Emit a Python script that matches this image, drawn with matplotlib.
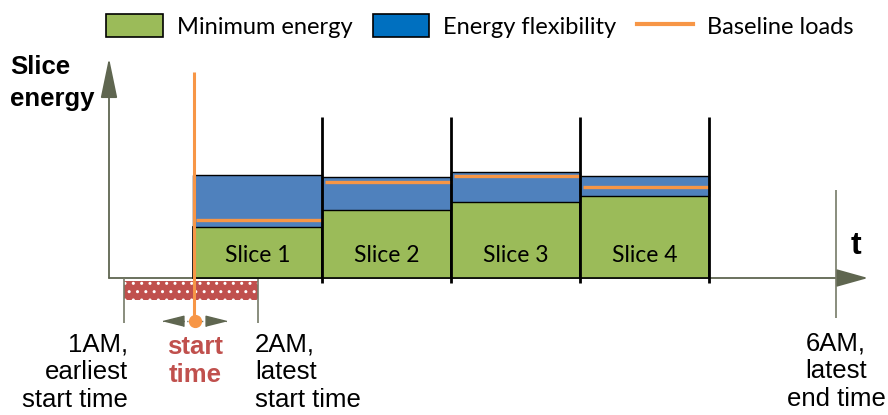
import matplotlib
matplotlib.use("Agg")
import matplotlib.pyplot as plt
from matplotlib.patches import Patch
from matplotlib.lines import Line2D

# diagram units: x = time position, y = slice energy (0 on the time axis)
slice_labels = ["Slice 1", "Slice 2", "Slice 3", "Slice 4"]
slice_edges = [193, 322, 451, 580, 709]
min_energy = [51, 68, 76, 82]
flexibility = [52, 33, 30, 20]
baseline = [58, 96, 102, 91]

earliest_start = 124
latest_start = 258
latest_end = 836
start_time = 194

green = "#9bbb59"
blue = "#4f81bd"
orange = "#f79646"
red = "#c0504d"
axis_grey = "#767a67"
arrow_grey = "#5f6650"

fig = plt.figure(figsize=(8.88, 4.15), dpi=100)
ax = fig.add_axes([0, 0, 1, 1])
ax.set_xlim(0, 888)
ax.set_ylim(-137, 278)
ax.axis("off")

starts = slice_edges[:-1]
widths = [b - a for a, b in zip(slice_edges[:-1], slice_edges[1:])]

# flexible window for the start time
ax.barh(-12.5, latest_start - earliest_start, left=earliest_start, height=19,
        color=red, hatch="..", edgecolor="white", linewidth=0, zorder=2)

# axes with arrows
ax.annotate("", xy=(109, 220), xytext=(109, 0),
            arrowprops=dict(arrowstyle="-|>,head_length=1.25,head_width=0.26",
                            mutation_scale=20, color=arrow_grey, lw=1.3,
                            shrinkA=0, shrinkB=0), zorder=1)
ax.annotate("", xy=(868, 0), xytext=(109, 0),
            arrowprops=dict(arrowstyle="-|>,head_length=1.0,head_width=0.28",
                            mutation_scale=20, color=arrow_grey, lw=1.3,
                            shrinkA=0, shrinkB=0), zorder=1)

# time marks
ax.vlines([earliest_start, latest_start], -45, 0, color=axis_grey, lw=1.2, zorder=3)
ax.vlines(latest_end, -40, 88, color=axis_grey, lw=1.2, zorder=3)

# slices
ax.bar(starts, min_energy, width=widths, align="edge", color=green,
       edgecolor="black", linewidth=1.2, zorder=4)
ax.bar(starts, flexibility, width=widths, bottom=min_energy, align="edge",
       color=blue, edgecolor="black", linewidth=1.0, zorder=4)
ax.hlines(baseline, [s + 3 for s in starts], [s + w + 1 for s, w in zip(starts, widths)],
          color=orange, lw=2.4, zorder=5)
ax.vlines(slice_edges[1:], -5, 161, color="black", lw=2.0, zorder=6)

for s, w, lab in zip(starts, widths, slice_labels):
    ax.text(s + w / 2, 22, lab, ha="center", va="center", fontsize=16.5,
            family="Lato", zorder=7)

# start time marker
ax.vlines(start_time, -43, 206, color=orange, lw=2.2, zorder=6)
ax.plot([183, 205], [-43, -43], color=axis_grey, lw=1, ls=":", zorder=5)
ax.plot(173, -43, marker=[(-1, 0), (1, 0.5), (1, -0.5)], ms=15,
        color=arrow_grey, ls="none", zorder=6)
ax.plot(216, -43, marker=[(1, 0), (-1, 0.5), (-1, -0.5)], ms=15,
        color=arrow_grey, ls="none", zorder=6)
ax.plot(start_time + 1, -43, marker="o", ms=8.5, color=orange, ls="none", zorder=7)

# texts
ax.text(10, 223, "Slice\nenergy", ha="left", va="top", fontsize=18.5,
        fontweight="bold", family="Liberation Sans", linespacing=1.4)
ax.text(856, 24, "t", ha="center", va="baseline", fontsize=23,
        fontweight="bold", family="Liberation Sans")

lab_kw = dict(fontsize=18.5, family="Liberation Sans", va="top", linespacing=1.2)
ax.text(128, -54, "1AM,\nearliest\nstart time", ha="right", multialignment="right", **lab_kw)
ax.text(255, -54, "2AM,\nlatest\nstart time", ha="left", multialignment="left", **lab_kw)
ax.text(latest_end, -53, "6AM,\nlatest\nend time", ha="center", multialignment="center", **lab_kw)
ax.text(start_time + 1, -57, "start\ntime", ha="center", color=red,
        fontweight="bold", **lab_kw)

handles = [
    Patch(facecolor=green, edgecolor="black", linewidth=1.2),
    Patch(facecolor="#0070c0", edgecolor="black", linewidth=1.2),
    Line2D([], [], color=orange, lw=3),
]
fig.legend(handles, ["Minimum energy", "Energy flexibility", "Baseline loads"],
           loc="center left", bbox_to_anchor=(106 / 888, 1 - 26 / 415), ncol=3,
           frameon=False, borderpad=0, borderaxespad=0,
           prop=dict(family="Lato", size=17), handlelength=2.4, handleheight=1.1,
           handletextpad=0.6, columnspacing=0.85)

fig.savefig("out.png", dpi=100)
